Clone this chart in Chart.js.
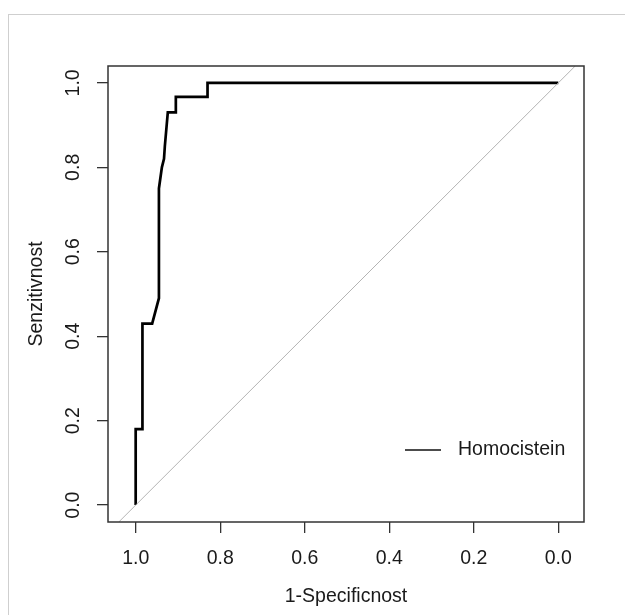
<!DOCTYPE html>
<html>
<head>
<meta charset="utf-8">
<script src="https://cdn.jsdelivr.net/npm/chart.js@4.4.1/dist/chart.umd.min.js"></script>
<style>
  html, body { margin: 0; padding: 0; background: #fff; overflow: hidden; }
  #frame { position: absolute; left: 8px; top: 14px; width: 800px; height: 800px;
           border-left: 1px solid #cfcfcf; border-top: 1px solid #cfcfcf; }
  #roc { position: absolute; left: 0; top: 0; }
</style>
</head>
<body>
<div id="frame"></div>
<canvas id="roc" width="625" height="615"></canvas>
<script>
// ROC krivulja - vrednosti odčitane s slike
const specificity = [1.0, 1.0, 0.984, 0.984, 0.961, 0.945, 0.945, 0.938, 0.933, 0.931, 0.924, 0.905, 0.905, 0.830, 0.830, 0.0];
const sensitivity = [0.0, 0.18, 0.18, 0.43, 0.43, 0.49, 0.75, 0.80, 0.82, 0.85, 0.93, 0.93, 0.967, 0.967, 1.0, 1.0];
const diagSpec = [1.04, -0.04];
const diagSens = [-0.04, 1.04];
const tickValues = [0, 0.2, 0.4, 0.6, 0.8, 1.0];
const seriesName = 'Homocistein';

const FONT = 'Liberation Sans, Arial, sans-serif';
const FSIZE = 19.5;
const TXT = '#1a1a1a';

const rocPoints = specificity.map((s, i) => ({ x: s, y: sensitivity[i] }));
const diagPoints = diagSpec.map((s, i) => ({ x: s, y: diagSens[i] }));

// okvir okoli grafa + legenda (kot v R)
const boxPlugin = {
    id: 'rBox',
    afterDatasetsDraw(chart) {
        const { ctx, chartArea: a } = chart;
        ctx.save();
        ctx.strokeStyle = '#333';
        ctx.lineWidth = 1.5;
        ctx.strokeRect(a.left, a.top, a.right - a.left, a.bottom - a.top);

        // legenda
        const ly = 450;
        ctx.strokeStyle = '#111';
        ctx.lineWidth = 1.3;
        ctx.beginPath();
        ctx.moveTo(a.right - 179, ly);
        ctx.lineTo(a.right - 143, ly);
        ctx.stroke();
        ctx.fillStyle = TXT;
        ctx.font = FSIZE + 'px ' + FONT;
        ctx.textAlign = 'left';
        ctx.textBaseline = 'middle';
        ctx.fillText(seriesName, a.right - 126, ly);
        ctx.restore();
    }
};

function fixTicks(scale) {
    scale.ticks = tickValues.map(v => ({ value: v }));
}

new Chart(document.getElementById('roc').getContext('2d'), {
    type: 'scatter',
    data: {
        datasets: [
            {
                label: 'diag',
                data: diagPoints,
                showLine: true,
                borderColor: '#b4b4b4',
                borderWidth: 1,
                pointRadius: 0,
                tension: 0
            },
            {
                label: seriesName,
                data: rocPoints,
                showLine: true,
                borderColor: '#000',
                borderWidth: 2.7,
                pointRadius: 0,
                tension: 0
            }
        ]
    },
    options: {
        responsive: false,
        animation: false,
        devicePixelRatio: 1,
        layout: { padding: { left: 0, top: 66, right: 41, bottom: 0 } },
        plugins: {
            legend: { display: false },
            tooltip: { enabled: false }
        },
        scales: {
            x: {
                type: 'linear',
                reverse: true,
                min: -0.0608,
                max: 1.0655,
                afterBuildTicks: fixTicks,
                afterFit(scale) { scale.height = 93; },
                grid: { drawOnChartArea: false, drawTicks: true, tickLength: 11, tickColor: '#333', lineWidth: 1.3 },
                border: { display: false },
                ticks: {
                    color: TXT,
                    font: { family: FONT, size: FSIZE },
                    padding: 14,
                    maxRotation: 0,
                    callback: v => Number(v).toFixed(1)
                },
                title: {
                    display: true,
                    text: '1-Specificnost',
                    color: TXT,
                    font: { family: FONT, size: FSIZE },
                    padding: { top: 0, bottom: 7 }
                }
            },
            y: {
                type: 'linear',
                min: -0.04,
                max: 1.04,
                afterBuildTicks: fixTicks,
                afterFit(scale) { scale.width = 108; },
                grid: { drawOnChartArea: false, drawTicks: true, tickLength: 11, tickColor: '#333', lineWidth: 1.3 },
                border: { display: false },
                ticks: {
                    color: TXT,
                    font: { family: FONT, size: FSIZE },
                    padding: 10,
                    minRotation: 90,
                    maxRotation: 90,
                    crossAlign: 'center',
                    callback: v => Number(v).toFixed(1)
                },
                title: {
                    display: true,
                    text: 'Senzitivnost',
                    color: TXT,
                    font: { family: FONT, size: FSIZE },
                    padding: { top: 25, bottom: 0 }
                }
            }
        }
    },
    plugins: [boxPlugin]
});
</script>
</body>
</html>
